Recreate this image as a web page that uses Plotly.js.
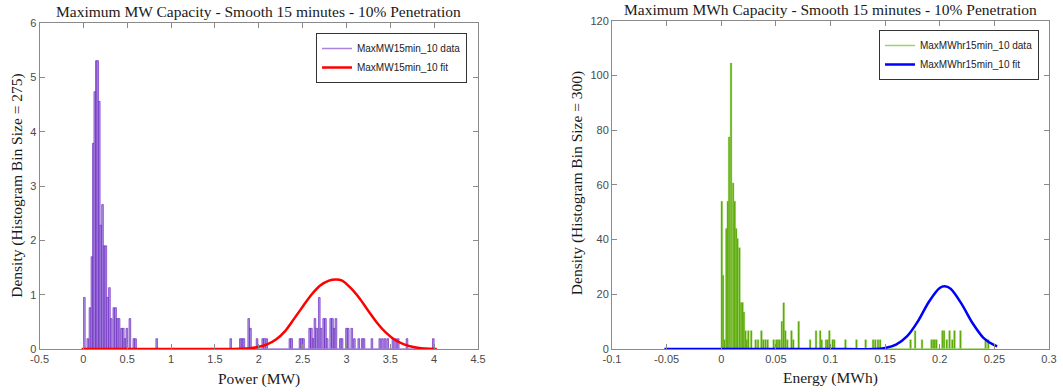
<!DOCTYPE html>
<html>
<head>
<meta charset="utf-8">
<script src="https://cdn.plot.ly/plotly-3.0.1.min.js"></script>
<style>html,body{margin:0;padding:0;background:#fff;}#chart{width:1063px;height:392px;}</style>
</head>
<body>
<div id="chart"></div>
<script>
// ---------- Left chart: Maximum MW capacity ----------
const mwBinCenters = [0.011,0.05,0.075,0.097,0.114,0.13,0.148,0.164,0.181,0.199,
  0.218,0.237,0.256,0.276,0.297,0.317,0.347,0.367,0.387,0.407,
  0.435,0.455,0.475,0.495,0.53,0.575,0.595,0.836,
  1.68,1.79,1.81,1.83,1.885,1.905,1.98,2.045,2.065,2.09,
  2.355,2.375,2.47,2.49,2.51,
  2.58,2.60,2.62,2.64,2.66,2.69,2.71,2.74,2.76,2.78,
  2.82,2.84,2.86,2.88,2.93,2.95,3.0,3.02,3.06,3.09,
  3.14,3.18,3.2,3.29,3.38,3.41,3.44,3.47,3.53,3.56,
  3.59,3.69,3.99];
const mwDensity = [0.95,0.19,0.76,1.70,3.79,4.74,5.31,5.31,4.56,2.28,
  2.66,1.90,1.90,0.95,1.13,0.56,0.76,0.76,0.56,0.56,
  0.38,0.38,0.19,0.38,0.56,0.19,0.19,0.19,
  0.19,0.19,0.19,0.19,0.56,0.38,0.19,0.19,0.19,0.19,
  0.19,0.19,0.19,0.19,0.19,
  0.38,0.38,0.19,0.56,0.38,0.95,0.38,0.56,0.56,0.19,
  0.56,0.56,0.38,0.56,0.19,0.19,0.38,0.38,0.38,0.19,
  0.19,0.19,0.19,0.19,0.19,0.19,0.19,0.19,0.19,0.19,
  0.19,0.19,0.19];
const mwDataRange = [0.0, 4.0];
const mwFitX = [-0.02,0.5,1.0,1.5,1.8,1.9,2.0,2.1,2.2,2.3,2.4,2.5,2.6,2.7,2.8,2.88,2.95,3.05,3.15,3.25,3.35,3.45,3.55,3.65,3.75,3.85,3.95,4.03];
const mwFitY = [0,0,0,0,0.005,0.015,0.04,0.09,0.18,0.33,0.55,0.78,1.0,1.17,1.26,1.28,1.26,1.12,0.93,0.70,0.48,0.30,0.17,0.09,0.04,0.015,0.005,0.002];
const mwXTicks = [-0.5,0,0.5,1,1.5,2,2.5,3,3.5,4,4.5];
const mwXLabels = ["-0.5","0","0.5","1","1.5","2","2.5","3","3.5","4","4.5"];
const mwYTicks = [0,1,2,3,4,5,6];

// ---------- Right chart: Maximum MWh capacity ----------
const mwhBinCenters = [0.0005,0.0017,0.003,0.0047,0.006,0.0072,0.009,0.0109,0.0124,0.0137,
  0.0149,0.0167,0.0182,0.0195,0.0208,0.0222,0.0235,0.0248,0.0275,0.0315,
  0.0337,0.0368,0.0385,0.0405,0.0425,0.048,0.0505,0.052,0.0535,0.0555,
  0.0572,0.0587,0.0605,0.0643,0.066,0.0709,0.0814,0.0868,0.0906,0.092,
  0.0959,0.0975,0.099,0.102,0.1035,0.1137,0.1238,0.1322,0.139,0.141,
  0.1435,0.1455,0.1733,0.1775,0.1838,0.1925,0.194,0.1955,0.197,0.2025,
  0.204,0.2065,0.209,0.2115,0.2135,0.219,0.242,0.2445];
const mwhDensity = [54,27,3.4,44,54,77.5,104.5,60.7,54,44,
  40.4,37,17,17,13.5,6.7,3.4,6.7,6.7,3.4,
  3.4,6.7,3.4,3.4,3.4,3.4,3.4,3.4,3.4,10.1,
  16.9,6.7,3.4,6.7,3.4,10.1,3.4,6.7,6.7,3.4,
  3.4,3.4,6.7,3.4,3.4,3.4,3.4,3.4,3.4,3.4,
  3.4,3.4,3.4,6.7,3.4,3.4,3.4,3.4,3.4,6.7,
  6.7,3.4,6.7,3.4,6.7,6.7,3.4,3.4];
const mwhDataRange = [0.0, 0.2455];
const mwhFitX = [-0.052,0,0.05,0.1,0.14,0.15,0.16,0.17,0.18,0.19,0.2,0.2045,0.21,0.22,0.23,0.24,0.25,0.2526];
const mwhFitY = [0,0,0,0,0,0.4,1.6,4.6,10.1,17.2,22.3,22.9,22.0,16.5,9.5,4.1,1.4,1.0];
const mwhXTicks = [-0.1,-0.05,0,0.05,0.1,0.15,0.2,0.25,0.3];
const mwhXLabels = ["-0.1","-0.05","0","0.05","0.1","0.15","0.2","0.25","0.3"];
const mwhYTicks = [0,20,40,60,80,100,120];

const tickFont = {family: "Liberation Sans, Arial, sans-serif", size: 11, color: "#4a4a4a"};
const serif = {family: "Liberation Serif, Times New Roman, serif", size: 15.5, color: "#1a1a1a"};
const axisBase = {
  ticks: "inside", ticklen: 5, tickcolor: "#8a8a8a", tickwidth: 1,
  showline: true, linecolor: "#8a8a8a", linewidth: 1, mirror: "ticks",
  showgrid: false, zeroline: false, tickfont: tickFont, fixedrange: true
};

const traces = [
  {type: "bar", x: mwBinCenters, y: mwDensity, width: 0.019, xaxis: "x", yaxis: "y",
   marker: {color: "#b39ae6", line: {color: "#5e14b8", width: 0.6}}, showlegend: false, hoverinfo: "skip"},
  {type: "scatter", mode: "lines", x: mwDataRange, y: [0, 0], xaxis: "x", yaxis: "y",
   line: {color: "#a985dd", width: 1.5}, name: "MaxMW15min_10 data", legend: "legend"},
  {type: "scatter", mode: "lines", x: mwFitX, y: mwFitY, xaxis: "x", yaxis: "y",
   line: {color: "#ff0000", width: 2.5, shape: "spline", smoothing: 0.8}, name: "MaxMW15min_10 fit", legend: "legend"},
  {type: "bar", x: mwhBinCenters, y: mwhDensity, width: 0.0015, xaxis: "x2", yaxis: "y2",
   marker: {color: "#58a500", line: {color: "#8ccd4c", width: 0.4}}, showlegend: false, hoverinfo: "skip"},
  {type: "scatter", mode: "lines", x: mwhDataRange, y: [0, 0], xaxis: "x2", yaxis: "y2",
   line: {color: "#9ad46a", width: 1.5}, name: "MaxMWhr15min_10 data", legend: "legend2"},
  {type: "scatter", mode: "lines", x: mwhFitX, y: mwhFitY, xaxis: "x2", yaxis: "y2",
   line: {color: "#0000ff", width: 2.5, shape: "spline", smoothing: 0.8}, name: "MaxMWhr15min_10 fit", legend: "legend2"}
];

const legendBase = {
  bgcolor: "#ffffff", bordercolor: "#333333", borderwidth: 1,
  font: {family: "Liberation Sans, Arial, sans-serif", size: 10, color: "#222"},
  xanchor: "right", yanchor: "top", tracegroupgap: 0, itemwidth: 30
};

const layout = {
  width: 1063, height: 392,
  margin: {l: 0, r: 0, t: 0, b: 0},
  paper_bgcolor: "#ffffff", plot_bgcolor: "#ffffff",
  barmode: "overlay",
  xaxis: Object.assign({}, axisBase, {domain: [0.0372, 0.4497], range: [-0.5, 4.5], tickvals: mwXTicks, ticktext: mwXLabels, anchor: "y"}),
  yaxis: Object.assign({}, axisBase, {domain: [0.1097, 0.9406], range: [0, 6], tickvals: mwYTicks, anchor: "x"}),
  xaxis2: Object.assign({}, axisBase, {domain: [0.5757, 0.9868], range: [-0.1, 0.3], tickvals: mwhXTicks, ticktext: mwhXLabels, anchor: "y2"}),
  yaxis2: Object.assign({}, axisBase, {domain: [0.1097, 0.9472], range: [0, 120], tickvals: mwhYTicks, anchor: "x2"}),
  legend: Object.assign({}, legendBase, {x: 0.4393, y: 0.9158}),
  legend2: Object.assign({}, legendBase, {x: 0.9774, y: 0.9235}),
  showlegend: true,
  annotations: [
    {text: "Maximum MW Capacity - Smooth 15 minutes - 10% Penetration", xref: "paper", yref: "paper", x: 0.2435, y: 0.9694, xanchor: "center", yanchor: "middle", showarrow: false, font: serif},
    {text: "Maximum MWh Capacity - Smooth 15 minutes - 10% Penetration", xref: "paper", yref: "paper", x: 0.7813, y: 0.977, xanchor: "center", yanchor: "middle", showarrow: false, font: serif},
    {text: "Power (MW)", xref: "paper", yref: "paper", x: 0.2435, y: 0.0332, xanchor: "center", yanchor: "middle", showarrow: false, font: serif},
    {text: "Energy (MWh)", xref: "paper", yref: "paper", x: 0.7813, y: 0.0357, xanchor: "center", yanchor: "middle", showarrow: false, font: serif},
    {text: "Density (Histogram Bin Size = 275)", xref: "paper", yref: "paper", x: 0.0163, y: 0.527, xanchor: "center", yanchor: "middle", textangle: -90, showarrow: false, font: serif},
    {text: "Density (Histogram Bin Size = 300)", xref: "paper", yref: "paper", x: 0.5435, y: 0.532, xanchor: "center", yanchor: "middle", textangle: -90, showarrow: false, font: serif}
  ]
};

Plotly.newPlot("chart", traces, layout, {displayModeBar: false, staticPlot: true});
</script>
</body>
</html>
